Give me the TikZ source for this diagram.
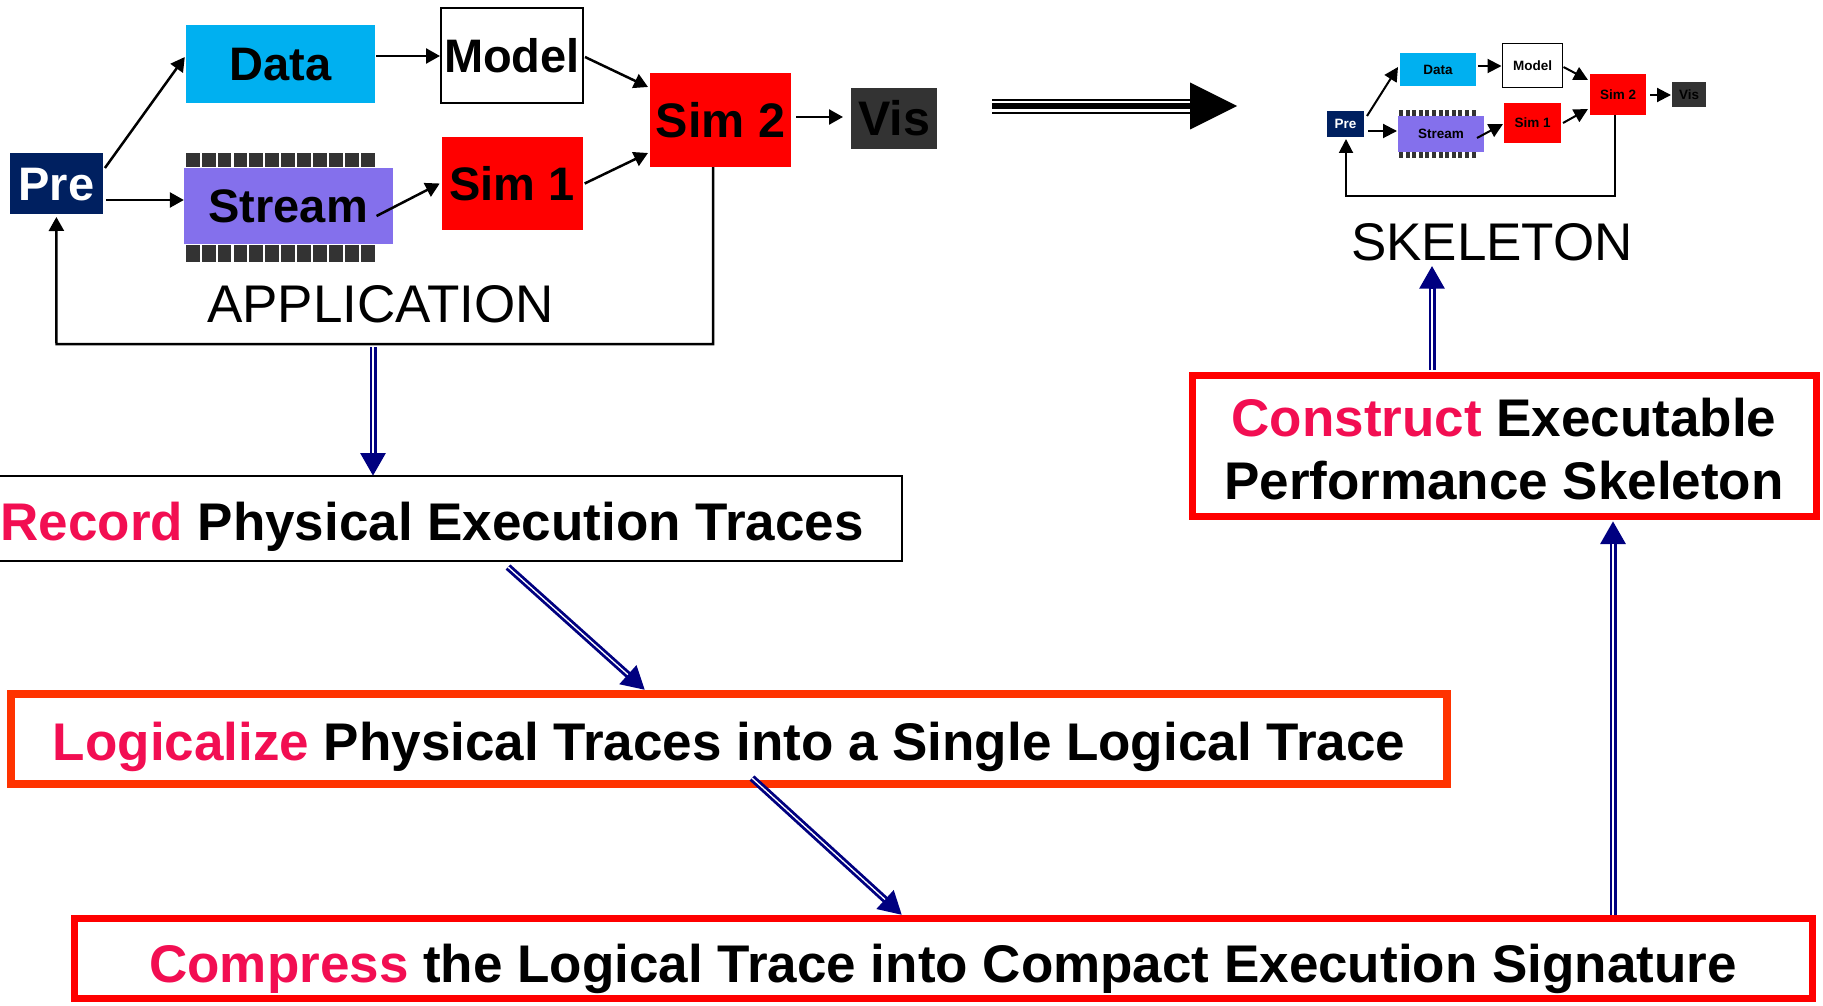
\documentclass[tikz,border=0pt]{standalone}
\usepackage{fontspec}
\setmainfont{Liberation Sans}
\usetikzlibrary{arrows.meta,calc}
\definecolor{cdata}{RGB}{0,176,240}
\definecolor{cpre}{RGB}{0,32,96}
\definecolor{cstream}{RGB}{132,112,236}
\definecolor{cpin}{RGB}{51,51,51}
\definecolor{cvis}{RGB}{51,51,51}
\definecolor{kw}{RGB}{242,14,82}
\definecolor{navyc}{RGB}{0,0,128}
\definecolor{corange}{RGB}{255,51,0}
\begin{document}
\begin{tikzpicture}[x=1pt,y=-1pt,
  box/.style={rectangle, inner sep=0pt, outer sep=0pt},
  bapp/.style={box, font=\fontsize{47}{47}\selectfont\bfseries, text height=33.7pt, text depth=0pt},
  bmid/.style={box, font=\fontsize{48.5}{48.5}\selectfont\bfseries, text height=34.8pt, text depth=0pt},
  sapp/.style={box, font=\fontsize{13.5}{13.5}\selectfont\bfseries, text height=9.7pt, text depth=0pt},
  bigtxt/.style={font=\fontsize{53}{63}\selectfont\bfseries},
  appar/.style={line width=2.5pt, -{Triangle[length=14pt,width=15pt]}},
  sar/.style={line width=2pt, -{Triangle[length=14pt,width=14pt]}},
  bluearr/.style={draw=navyc, line width=7pt, -{Triangle[length=23pt,width=24pt]}},
  bluegap/.style={draw=white, line width=1.3pt, shorten >=23pt},
  pinbar/.style={fill=cpin}
]
\useasboundingbox (0,0) rectangle (1823,1006);

% ---------------- APPLICATION ----------------
\foreach \i in {0,...,11} {
  \fill[pinbar] ({185.8+\i*15.9},153) rectangle ++(13.8,14);
  \fill[pinbar] ({185.8+\i*15.9},245) rectangle ++(13.8,17);
}
\node[bapp, fill=cpre, text=white, minimum width=93pt, minimum height=61pt] (pre) at (56.4,183.5) {Pre};
\node[bapp, fill=cdata, minimum width=189pt, minimum height=78pt] (data) at (280.3,64) {Data};
\node[bapp, fill=white, draw=black, line width=2.5pt, minimum width=142pt, minimum height=95pt] (model) at (512,55.5) {Model};
\node[bapp, fill=cstream, minimum width=208.7pt, minimum height=76pt] (stream) at (288.2,206) {Stream};
\node[bapp, fill=red, minimum width=141pt, minimum height=93pt] (sim1) at (512.2,183.5) {Sim 1};
\node[bmid, fill=red, minimum width=141pt, minimum height=94pt] (sim2) at (720.5,120) {Sim 2};
\node[bmid, fill=cvis, minimum width=86pt, minimum height=61pt] (vis) at (894,118.5) {Vis};
\node[font=\fontsize{53}{53}\selectfont, anchor=base, inner sep=0pt] (applbl) at (380.5,322) {APPLICATION};

\draw[appar] ($(pre.east)+(2,-15.5)$) -- ($(data.west)+(-1,-7)$);
\draw[appar] ($(pre.east)+(3,16.5)$) -- ($(stream.west)+(0,-6)$);
\draw[appar] ($(data.east)+(1.5,-8)$) -- ($(model.west)+(-1,0.5)$);
\draw[appar] ($(stream.east)+(-16,10)$) -- ($(sim1.west)+(-2,0)$);
\draw[appar] ($(sim1.east)+(2,0)$) -- ($(sim2.west)+(-2,33)$);
\draw[appar] ($(model.east)+(2,1.5)$) -- ($(sim2.west)+(-2,-33)$);
\draw[appar] ($(sim2.east)+(5,-3)$) -- ($(vis.west)+(-8,-1.5)$);
\coordinate (fbL) at (56.5,344);
\draw[appar] ($(sim2.south)+(-7.5,0)$) |- (fbL) -- ($(pre.south)+(0,3)$);

% ---------------- big black arrow ----------------
\coordinate (bA) at (992,106);
\coordinate (bB) at (1237,106);
\draw[line width=2pt] ($(bA)+(0,-6)$) -- ($(bB)+(-47,-6)$);
\draw[line width=6pt] (bA) -- ($(bB)+(-47,0)$);
\draw[line width=2pt] ($(bA)+(0,7)$) -- ($(bB)+(-47,7)$);
\fill ($(bB)+(-47,-23.5)$) -- (bB) -- ($(bB)+(-47,23.5)$) -- cycle;

% ---------------- SKELETON ----------------
\foreach \i in {0,...,11} {
  \fill[pinbar] ({1399+\i*6.6},110) rectangle ++(4,6);
  \fill[pinbar] ({1399+\i*6.6},152) rectangle ++(4,6);
}
\node[sapp, fill=cpre, text=white, minimum width=37pt, minimum height=26pt] (spre) at (1345.5,124) {Pre};
\node[sapp, fill=cdata, minimum width=76pt, minimum height=33pt] (sdata) at (1438,69.5) {Data};
\node[sapp, fill=white, draw=black, line width=1.5pt, minimum width=60pt, minimum height=44pt] (smodel) at (1532.5,65.5) {Model};
\node[sapp, fill=cstream, minimum width=86pt, minimum height=36pt] (sstream) at (1441,134) {Stream};
\node[sapp, fill=red, minimum width=57pt, minimum height=40pt] (ssim1) at (1532.5,123) {Sim 1};
\node[sapp, fill=red, minimum width=56pt, minimum height=41pt] (ssim2) at (1618,94.5) {Sim 2};
\node[sapp, fill=cvis, minimum width=34pt, minimum height=25pt] (svis) at (1689,94.5) {Vis};
\node[font=\fontsize{53}{53}\selectfont, anchor=base, inner sep=0pt] (skel) at (1492,260) {SKELETON};

\draw[sar] ($(spre.east)+(3,-8)$) -- ($(sdata.west)+(-2,-2.5)$);
\draw[sar] ($(spre.east)+(4,7)$) -- ($(sstream.west)+(-1,-3)$);
\draw[sar] ($(sdata.east)+(2,-3.5)$) -- ($(smodel.west)+(-1,0.5)$);
\draw[sar] ($(sstream.east)+(-7,4)$) -- ($(ssim1.west)+(-1,1)$);
\draw[sar] ($(ssim1.east)+(2,0)$) -- ($(ssim2.west)+(-2,14.5)$);
\draw[sar] ($(smodel.east)+(1,1.5)$) -- ($(ssim2.west)+(-2,-14.5)$);
\draw[sar] ($(ssim2.east)+(4,0.5)$) -- ($(svis.west)+(-1,0.5)$);
\coordinate (sfb) at (1346,196);
\draw[sar] ($(ssim2.south)+(-3,0)$) |- (sfb) -- ($(spre.south)+(0.5,2)$);

% ---------------- process boxes ----------------
\node[box, draw=black, line width=2pt, minimum width=940pt, minimum height=85pt, bigtxt, text height=43pt, text depth=0pt] (record) at (432,518.5)
  {\textcolor{kw}{Record} Physical Execution Traces};
\node[box, draw=corange, line width=8pt, minimum width=1436pt, minimum height=90pt, bigtxt, text height=42pt, text depth=0pt] (logic) at (729,739)
  {\textcolor{kw}{Logicalize} Physical Traces into a Single Logical Trace};
\node[box, draw=red, line width=7pt, minimum width=1738pt, minimum height=80pt, bigtxt, text height=48pt, text depth=0pt] (compress) at (943,958)
  {\textcolor{kw}{Compress} the Logical Trace into Compact Execution Signature};
\node[box, draw=red, line width=7pt, minimum width=624pt, minimum height=141pt] (construct) at (1504,445.5) {};
\node[bigtxt, align=center, inner sep=0pt] (constxt) at (1504,449.5)
  {\textcolor{kw}{Construct} Executable\\Performance Skeleton};

% ---------------- blue double arrows ----------------
\coordinate (appout) at (373,347);
\draw[bluearr] (appout) -- (appout |- record.north);
\draw[bluegap] (appout) -- (appout |- record.north);
\draw[bluearr] ($(record.south)+(76,6)$) -- ($(logic.north)+(-84,-4)$);
\draw[bluegap] ($(record.south)+(76,6)$) -- ($(logic.north)+(-84,-4)$);
\draw[bluearr] ($(logic.south)+(23,-6)$) -- ($(compress.north)+(-41,-3)$);
\draw[bluegap] ($(logic.south)+(23,-6)$) -- ($(compress.north)+(-41,-3)$);
\draw[bluearr] ($(compress.north)+(670,-3)$) -- ($(construct.south)+(109,5)$);
\draw[bluegap] ($(compress.north)+(670,-3)$) -- ($(construct.south)+(109,5)$);
\draw[bluearr] ($(construct.north)+(-72,-5)$) -- ($(skel.south)+(-60,5)$);
\draw[bluegap] ($(construct.north)+(-72,-5)$) -- ($(skel.south)+(-60,5)$);
\end{tikzpicture}
\end{document}
